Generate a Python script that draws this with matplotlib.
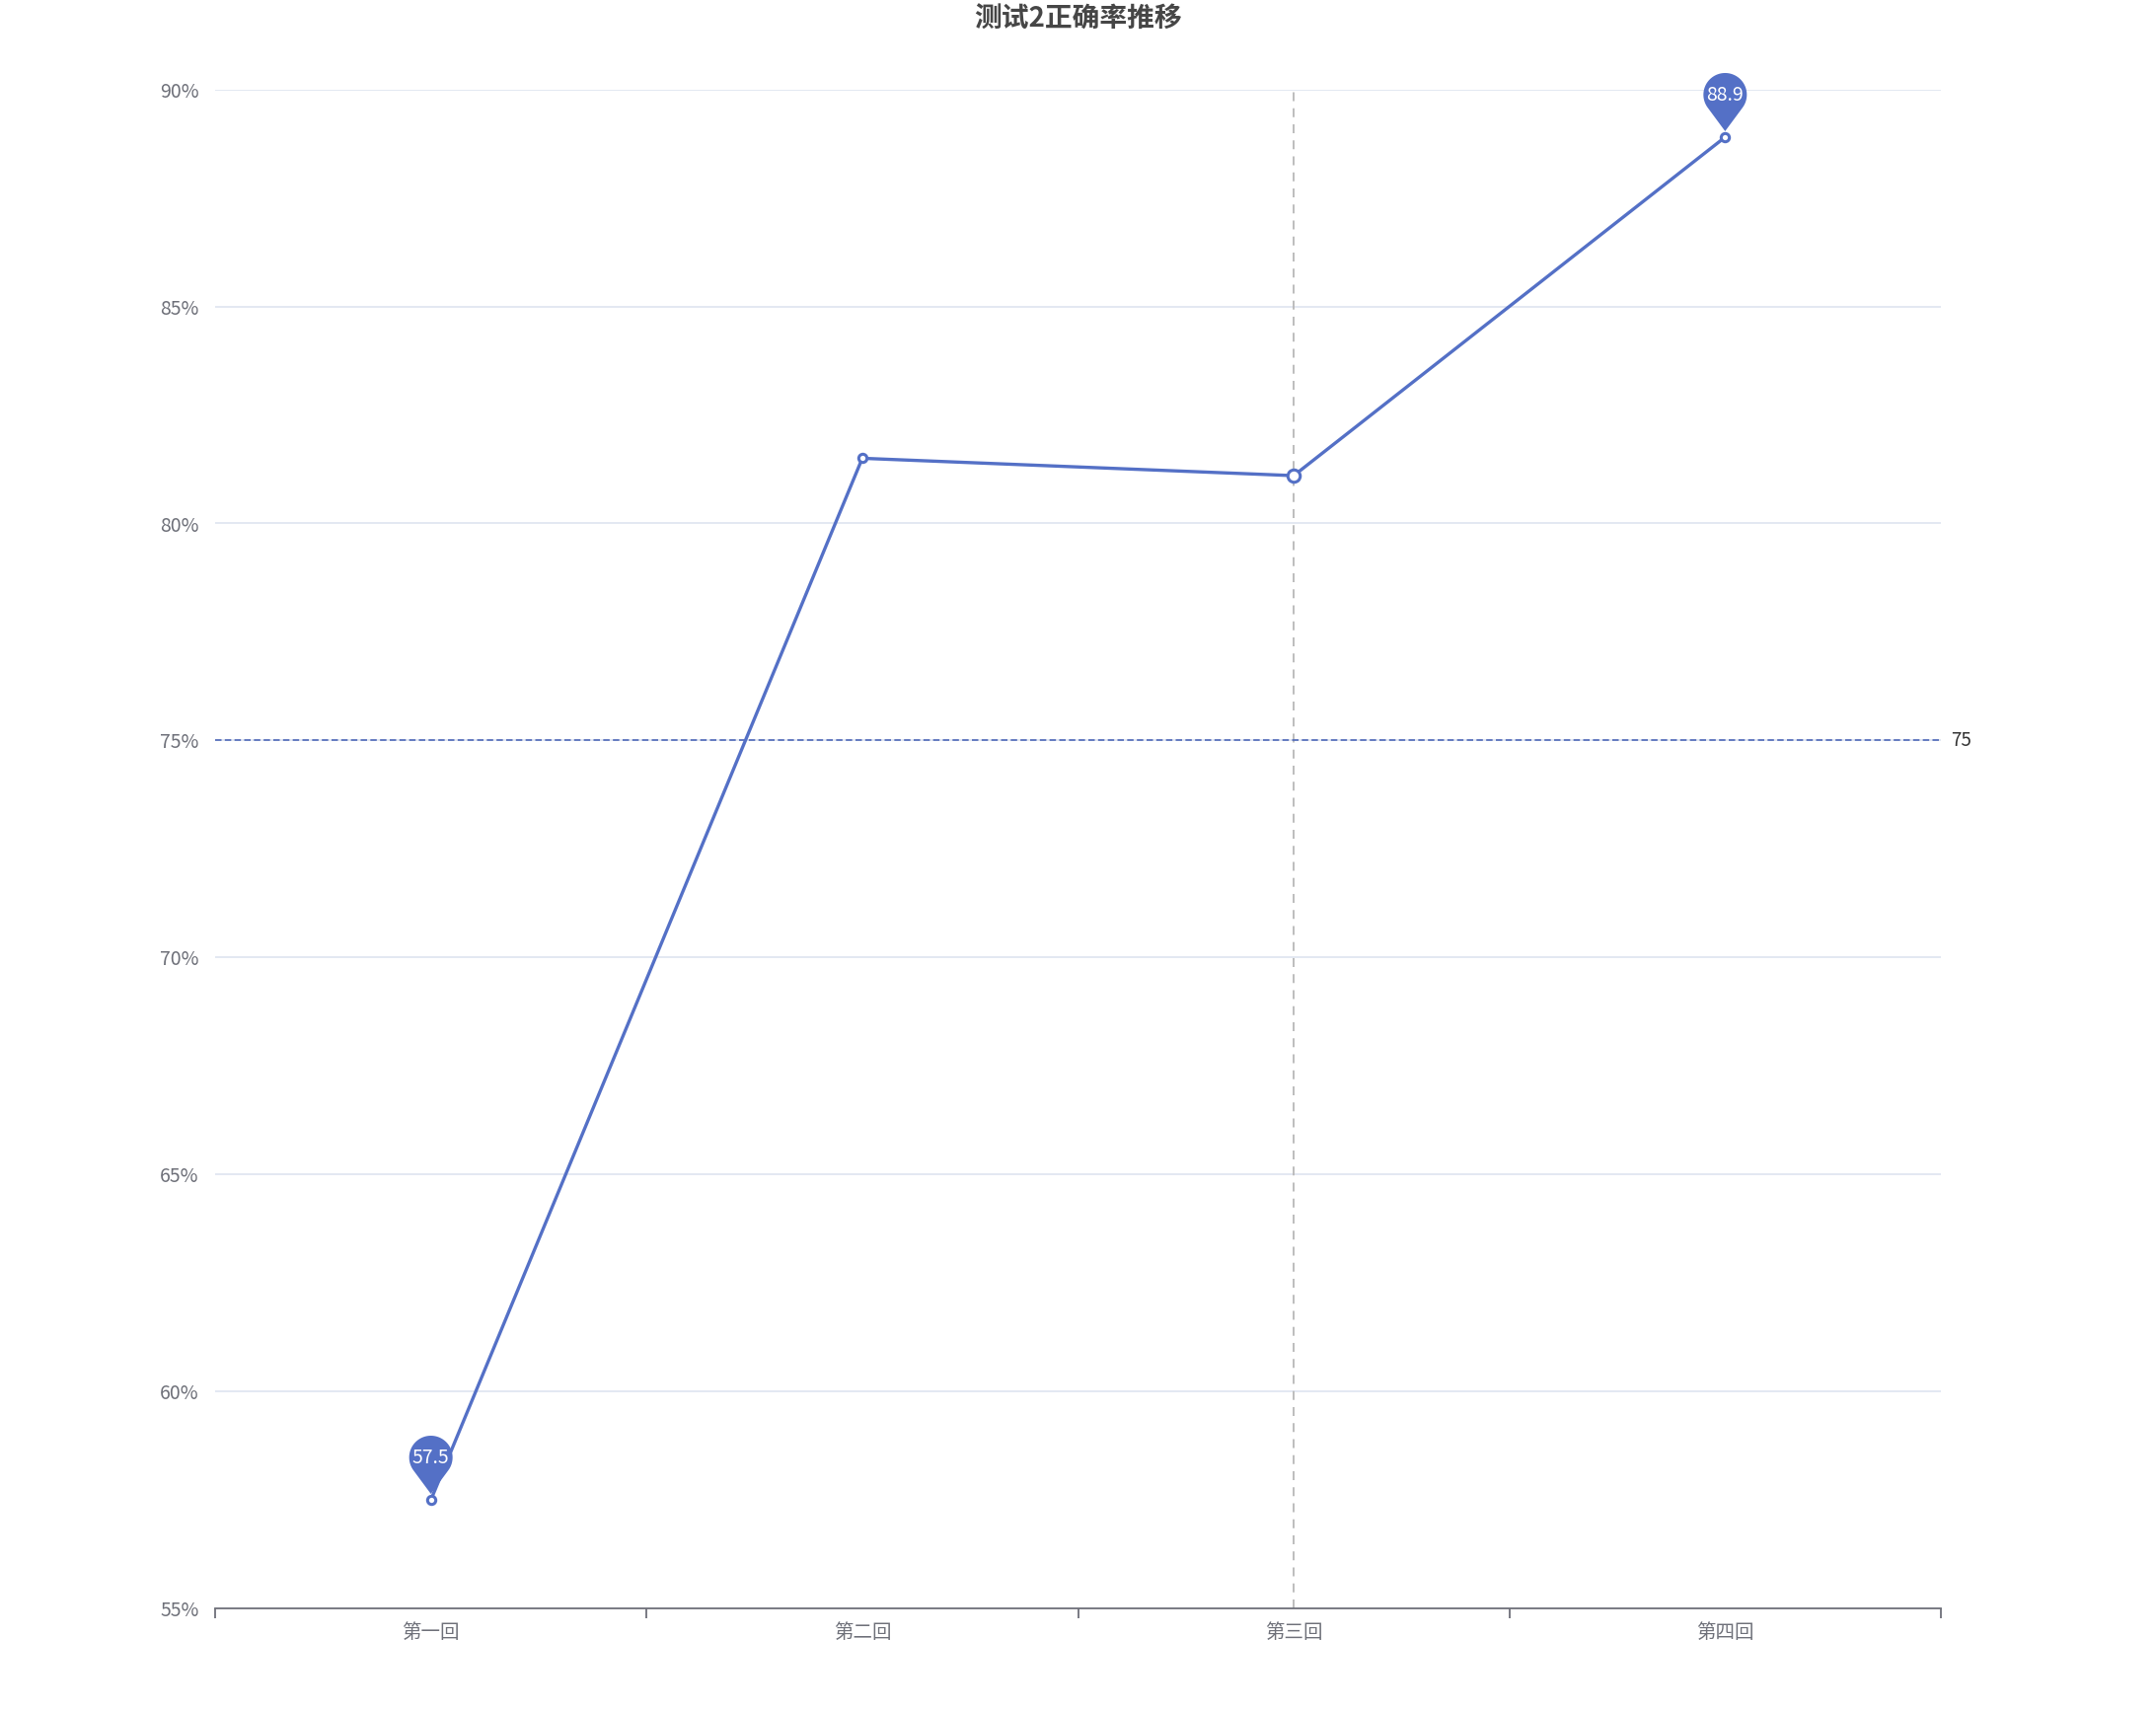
import numpy as np
import matplotlib.pyplot as plt
from matplotlib.path import Path
from matplotlib.patches import PathPatch
from matplotlib.transforms import Affine2D, ScaledTranslation

plt.rcParams['font.family'] = ['Noto Sans CJK SC', 'DejaVu Sans']

# data
categories = ['第一回', '第二回', '第三回', '第四回']
accuracy = [57.5, 81.5, 81.1, 88.9]
mark_points = [0, 3]          # min / max pins
mark_line = 75
hover_idx = 2
y_ticks = [55, 60, 65, 70, 75, 80, 85, 90]

blue = '#5470c6'
grey = '#6E7079'

fig = plt.figure(figsize=(21.85, 17.341), dpi=100)
ax = fig.add_axes([0.0998, 0.06, 0.8004, 0.8877])

x = np.arange(len(categories))
ax.set_xlim(-0.5, len(categories) - 0.5)
ax.set_ylim(55, 90)

# grid
for v in y_ticks[1:]:
    ax.axhline(v, color='#E0E6F1', lw=1.3, zorder=0)

# axis pointer (hover)
ax.axvline(hover_idx, color='#b8b8b8', lw=1.3, ls=(0, (5, 4)), zorder=1)

# markline at 75
ax.axhline(mark_line, color='#4f68b8', lw=1.2, ls=(0, (3.9, 2)), zorder=2)
ax.text(1.006, mark_line, str(mark_line), transform=ax.get_yaxis_transform(),
        ha='left', va='center', fontsize=13.5, color='#333333')

# line
ax.plot(x, accuracy, color=blue, lw=2.4, zorder=3)
sizes = [6 if i != hover_idx else 9 for i in range(len(x))]
for i in range(len(x)):
    ax.plot(x[i], accuracy[i], 'o', ms=sizes[i], mfc='white', mec=blue,
            mew=2.2, zorder=4)

# pins
def pin_path(r=22, c=43, t=6, n=60):
    d = c - t
    b = np.arccos(r / d)
    a0 = -np.pi / 2 + b
    a1 = 3 * np.pi / 2 - b
    ang = np.linspace(a0, a1, n)
    pts = [(0, t)] + [(r * np.cos(a), c + r * np.sin(a)) for a in ang] + [(0, t)]
    codes = [Path.MOVETO] + [Path.LINETO] * (len(pts) - 2) + [Path.CLOSEPOLY]
    return Path(pts, codes)

pp = pin_path()
for i in mark_points:
    tr = Affine2D() + ScaledTranslation(x[i], accuracy[i], ax.transData)
    patch = PathPatch(pp, facecolor=blue, edgecolor='none', transform=tr,
                      zorder=5, clip_on=False)
    ax.add_patch(patch)
    ttr = ScaledTranslation(0, 43 / fig.dpi, fig.dpi_scale_trans)
    ax.text(x[i], accuracy[i], f'{accuracy[i]}', transform=ax.transData + ttr,
            ha='center', va='center', fontsize=14, color='white', zorder=6)

# axes styling
for s in ['top', 'right', 'left']:
    ax.spines[s].set_visible(False)
ax.spines['bottom'].set_color(grey)
ax.spines['bottom'].set_linewidth(1.3)

ax.set_xticks(np.arange(-0.5, len(categories)), minor=False)
ax.set_xticklabels([])
ax.set_xticks(x, minor=True)
ax.set_xticklabels(categories, minor=True)
ax.tick_params(axis='x', which='major', length=7, width=1.3, color=grey)
ax.tick_params(axis='x', which='minor', length=0, pad=10, labelsize=14,
               labelcolor=grey)

ax.set_yticks(y_ticks)
ax.set_yticklabels([f'{v}%' for v in y_ticks])
ax.tick_params(axis='y', length=0, pad=12, labelsize=14, labelcolor=grey)

fig.text(0.5, 0.9885, '测试2正确率推移', ha='center', va='center',
         fontsize=20, fontweight='bold', color='#464646')

fig.savefig('out.png', dpi=100)
